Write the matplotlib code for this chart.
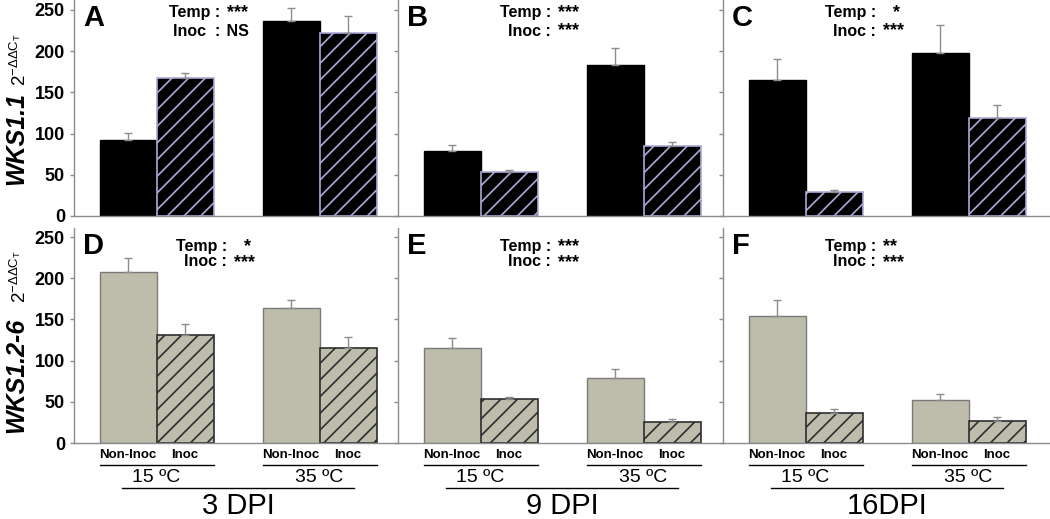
import matplotlib
matplotlib.use("Agg")
import matplotlib.pyplot as plt
import matplotlib.transforms as mtransforms

plt.rcParams["font.family"] = ["Liberation Sans", "DejaVu Sans"]
plt.rcParams["mathtext.fontset"] = "custom"
plt.rcParams["mathtext.rm"] = "Liberation Sans"
plt.rcParams["mathtext.it"] = "Liberation Sans:italic"
plt.rcParams["mathtext.bf"] = "Liberation Sans:bold"
plt.rcParams["hatch.linewidth"] = 1.2

# bar order in every panel: 15 C Non-Inoc, 15 C Inoc, 35 C Non-Inoc, 35 C Inoc
dpi_labels = ["3 DPI", "9 DPI", "16DPI"]
conditions = ["Non-Inoc", "Inoc"]
temperatures = ["15 \u00baC", "35 \u00baC"]
gene_labels = ["WKS1.1", "WKS1.2-6"]
panel_letters = [["A", "B", "C"], ["D", "E", "F"]]
temp_sig = [["***", "***", "  *"], ["  *", "***", "**"]]
inoc_sig = [["NS", "***", "***"], ["***", "***", "***"]]

wks11_mean = [[92, 167, 237, 222], [79, 53, 183, 85], [165, 29, 198, 119]]
wks11_err = [[9, 7, 16, 21], [7, 3, 21, 5], [26, 3, 34, 16]]
wks126_mean = [[207, 131, 164, 115], [115, 53, 79, 26], [154, 37, 52, 27]]
wks126_err = [[18, 14, 10, 14], [12, 3, 11, 3], [20, 4, 8, 4]]

yticks = [0, 50, 100, 150, 200, 250]

# figure layout in pixels
W, H = 1050, 519
col_left = [74, 398, 723]
col_right = [398, 723, 1050]
row_top = [0, 228]
row_base = [216, 443]
px_per_bar = 57.0
px_per_unit_y = 0.824
group_pos = [0.0, 2.86]

# styles per row: (solid face, solid edge, hatched face, hatched edge)
row_styles = [
    ("black", "black", "black", "#aaaad8"),
    ("#bebdac", "#7a7a7a", "#bebdac", "#2e2e2e"),
]

fig = plt.figure(figsize=(W / 100, H / 100), dpi=100)


def fx(x):
    return x / W


def fy(y):
    return 1 - y / H


for row, (means, errs) in enumerate([(wks11_mean, wks11_err), (wks126_mean, wks126_err)]):
    face_s, edge_s, face_h, edge_h = row_styles[row]
    for col in range(3):
        left, right = col_left[col], col_right[col]
        top, base = row_top[row], row_base[row]
        ax = fig.add_axes([fx(left), fy(base), (right - left) / W, (base - top) / H])

        x0 = -82.5 / px_per_bar
        ax.set_xlim(x0, x0 + (right - left) / px_per_bar)
        ax.set_ylim(0, (base - top) / px_per_unit_y)

        m = means[col]
        e = errs[col]
        xs = []
        for g in group_pos:
            xs += [g - 0.5, g + 0.5]

        ax.bar([xs[0], xs[2]], [m[0], m[2]], width=1, color=face_s,
               edgecolor=edge_s, linewidth=1, zorder=2)
        ax.bar([xs[1], xs[3]], [m[1], m[3]], width=1, color=face_h,
               edgecolor=edge_h, linewidth=1.2, hatch="//", zorder=2)
        ax.errorbar(xs, m, yerr=[[0] * 4, e], fmt="none", ecolor="#8c8c8c",
                    elinewidth=1, capsize=3, capthick=1, zorder=3)

        for side in ["top", "right"]:
            ax.spines[side].set_visible(False)
        for side in ["left", "bottom"]:
            ax.spines[side].set_color("#8c8c8c")
            ax.spines[side].set_linewidth(1)
        ax.set_xticks([])
        ax.set_yticks(yticks)
        ax.tick_params(axis="y", direction="out", length=3, width=1, color="#8c8c8c")
        if col == 0:
            ax.set_yticklabels([str(t) for t in yticks], fontsize=13,
                               fontweight="bold")
        else:
            ax.set_yticklabels([])

        # panel letter and significance
        fig.text(fx(left + 9), fy(top + 18), panel_letters[row][col],
                 fontsize=21, fontweight="bold", ha="left", va="center")
        colon_x = left + (146 if (row, col) == (0, 0) else 153)
        l1 = top + (13 if row == 0 else 18)
        l2 = top + (31 if row == 0 else 34)
        inoc_head = "Inoc  :" if (row, col) == (0, 0) else "Inoc :"
        fig.text(fx(colon_x), fy(l1), "Temp :", fontsize=11.5, fontweight="bold",
                 ha="right", va="center")
        fig.text(fx(colon_x), fy(l2), inoc_head, fontsize=11.5, fontweight="bold",
                 ha="right", va="center")
        fig.text(fx(colon_x + 2), fy(l1 + 1), " " + temp_sig[row][col], fontsize=13,
                 fontweight="bold", ha="left", va="center")
        fig.text(fx(colon_x + 2), fy(l2 + (0 if inoc_sig[row][col] == "NS" else 1)),
                 " " + inoc_sig[row][col],
                 fontsize=11.5 if inoc_sig[row][col] == "NS" else 13,
                 fontweight="bold", ha="left", va="center")

        # group labels under the bottom row
        if row == 1:
            blend = mtransforms.blended_transform_factory(ax.transData, fig.transFigure)
            for gi, g in enumerate(group_pos):
                for ci, cond in enumerate(conditions):
                    ax.text(g - 0.5 + ci, fy(455), cond, transform=blend,
                            fontsize=9.5, fontweight="bold", ha="center", va="center")
                ax.plot([g - 1, g + 1], [fy(465), fy(465)], transform=blend,
                        color="black", linewidth=1, clip_on=False)
                ax.text(g, fy(478), temperatures[gi], transform=blend,
                        fontsize=14, ha="center", va="center")
            ax.plot([group_pos[0] - 0.6, group_pos[1] + 0.6], [fy(488), fy(488)],
                    transform=blend, color="black", linewidth=1, clip_on=False)
            ax.text(sum(group_pos) / 2, fy(506), dpi_labels[col], transform=blend,
                    fontsize=21, ha="center", va="center")

    # y axis label: gene name plus 2^-ddCt
    fig.text(fx(23), fy(185 if row == 0 else 433), gene_labels[row], fontsize=18,
             fontweight="bold", fontstyle="italic", rotation=90,
             rotation_mode="anchor", ha="left", va="baseline")
    fig.text(fx(26), fy(86 if row == 0 else 303), r"$\mathregular{2^{-\Delta\Delta C_T}}$",
             fontsize=13.5, rotation=90, rotation_mode="anchor", ha="left",
             va="baseline")

fig.savefig("out.png", dpi=100)
